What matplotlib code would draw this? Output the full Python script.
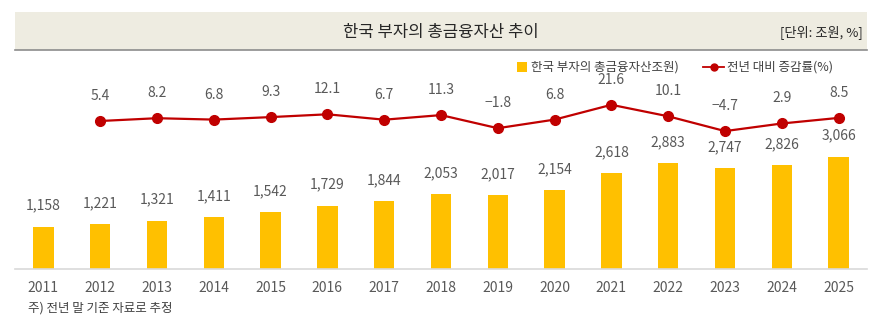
import matplotlib.pyplot as plt
import matplotlib.patches as mpatches
from matplotlib.lines import Line2D
import numpy as np

plt.rcParams['font.family'] = ['Noto Sans CJK KR', 'DejaVu Sans']

years = ["2011", "2012", "2013", "2014", "2015", "2016", "2017", "2018",
         "2019", "2020", "2021", "2022", "2023", "2024", "2025"]
assets = [1158, 1221, 1321, 1411, 1542, 1729, 1844, 2053,
          2017, 2154, 2618, 2883, 2747, 2826, 3066]
growth_years = years[1:]
growth = [5.4, 8.2, 6.8, 9.3, 12.1, 6.7, 11.3, -1.8, 6.8, 21.6, 10.1, -4.7, 2.9, 8.5]

title = "한국 부자의 총금융자산 추이"
unit = "[단위: 조원, %]"
bar_label = "한국 부자의 총금융자산조원)"
line_label = "전년 대비 증감률(%)"
note = "주) 전년 말 기준 자료로 추정"

bar_color = "#FFC000"
line_color = "#C00000"
text_color = "#595959"

W, H = 882, 322
fig = plt.figure(figsize=(W / 100, H / 100), dpi=100)

def fx(px):
    return px / W

def fy(py):
    return 1 - py / H

ax = fig.add_axes([fx(15), fy(269), fx(867) - fx(15), fy(60) - fy(269)])
x = np.arange(len(years))
ax.bar(x, assets, width=0.36, color=bar_color, zorder=2)
ax.set_xlim(-0.5, len(years) - 0.5)
ax.set_ylim(0, 5700)
for xi, v in zip(x, assets):
    ax.annotate(f"{v:,}", (xi, v), xytext=(0, 15), textcoords="offset points",
                ha="center", va="center", fontsize=10, color=text_color)

for s in ["top", "right", "left"]:
    ax.spines[s].set_visible(False)
ax.spines["bottom"].set_color("#D9D9D9")
ax.spines["bottom"].set_linewidth(1.2)
ax.set_yticks([])
ax.set_xticks(x)
ax.set_xticklabels(years, fontsize=10, color=text_color)
ax.tick_params(axis="x", length=0, pad=9)

ax2 = ax.twinx()
gx = x[1:]
ax2.plot(gx, growth, color=line_color, lw=1.6, marker="o", markersize=7, zorder=3)
ax2.set_ylim(-142.6, 66.4)
ax2.set_yticks([])
for s in ["top", "right", "left", "bottom"]:
    ax2.spines[s].set_visible(False)
for xi, v in zip(gx, growth):
    lbl = f"{v:.1f}".replace("-", "−")
    ax2.annotate(lbl, (xi, v), xytext=(0, 18), textcoords="offset points",
                 ha="center", va="center", fontsize=10, color=text_color)

# title band
band = mpatches.Rectangle((fx(15), fy(50)), fx(867) - fx(15), fy(12) - fy(50),
                          transform=fig.transFigure, facecolor="#EEECE1",
                          edgecolor="none", zorder=0)
fig.patches.append(band)
fig.add_artist(Line2D([fx(15), fx(867)], [fy(50), fy(50)], transform=fig.transFigure,
                      color="#8C8C8C", lw=1.2))
fig.text(fx(441), fy(32), title, ha="center", va="center", fontsize=12,
         color="#262626", fontweight="medium")
fig.text(fx(863), fy(32), unit, ha="right", va="center", fontsize=9.5, color="#262626")

# legend
fig.patches.append(mpatches.Rectangle((fx(517), fy(72)), fx(527) - fx(517), fy(62) - fy(72),
                                      transform=fig.transFigure, facecolor=bar_color,
                                      edgecolor="none"))
fig.text(fx(531), fy(67), bar_label, ha="left", va="center", fontsize=9, color="#404040")
fig.add_artist(Line2D([fx(703), fx(724)], [fy(67), fy(67)], transform=fig.transFigure,
                      color=line_color, lw=1.3))
fig.add_artist(Line2D([fx(713.5)], [fy(67)], transform=fig.transFigure,
                      color=line_color, marker="o", markersize=5))
fig.text(fx(727), fy(67), line_label, ha="left", va="center", fontsize=9, color="#404040")

fig.text(fx(28), fy(308), note, ha="left", va="center", fontsize=9, color="#404040")

fig.savefig("out.png", dpi=100)
